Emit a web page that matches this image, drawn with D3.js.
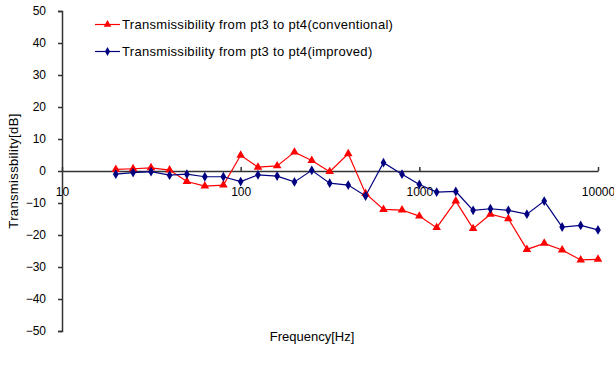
<!DOCTYPE html>
<html>
<head>
<meta charset="utf-8">
<script src="https://cdn.jsdelivr.net/npm/d3@7"></script>
<style>
  html, body { margin: 0; padding: 0; background: #fff; }
  svg { display: block; font-family: "Liberation Sans", Arial, sans-serif; }
</style>
</head>
<body>
<svg id="chart" width="614" height="365"></svg>
<script>
// 1/3-octave band centre frequencies (Hz)
const frequencies = [20, 25, 31.5, 40, 50, 63, 80, 100, 125, 160, 200, 250, 315, 400, 500,
  630, 800, 1000, 1250, 1600, 2000, 2500, 3150, 4000, 5000, 6300, 8000, 10000];

// Transmissibility pt3 -> pt4, conventional mount (dB)
const conventional = [0.5, 0.7, 1.0, 0.3, -3.3, -4.7, -4.4, 4.9, 1.2, 1.6, 5.9, 3.3, -0.2, 5.4, -7.0,
  -12.0, -12.2, -14.1, -17.7, -9.4, -18.0, -13.5, -14.9, -24.5, -22.6, -24.7, -27.8, -27.6];

// Transmissibility pt3 -> pt4, improved mount (dB)
const improved = [-1.0, -0.5, -0.2, -1.3, -1.0, -1.8, -1.8, -3.3, -1.2, -1.6, -3.4, 0.2, -3.8, -4.4, -7.8,
  2.6, -1.0, -4.2, -6.6, -6.4, -12.3, -11.8, -12.3, -13.5, -9.4, -17.5, -17.0, -18.4];

const seriesNames = [
  "Transmissibility from pt3 to pt4(conventional)",
  "Transmissibility from pt3 to pt4(improved)"
];
const yTicks = [50, 40, 30, 20, 10, 0, -10, -20, -30, -40, -50];
const xTicks = [10, 100, 1000, 10000];
const yTitle = "Transmissbility[dB]";
const xTitle = "Frequency[Hz]";

const svg = d3.select("#chart");
const plotLeft = 62, plotRight = 598, plotTop = 11, plotBottom = 331;

const x = d3.scaleLog().domain([10, 10000]).range([plotLeft, plotRight]);
const y = d3.scaleLinear().domain([-50, 50]).range([plotBottom, plotTop]);

const axisColor = "#333";
const fontSize = 12;

// vertical value axis
const yAxis = svg.append("g")
  .attr("transform", `translate(${plotLeft},0)`)
  .call(d3.axisLeft(y).tickValues(yTicks).tickSize(4).tickPadding(12).tickFormat(d3.format("d")));
yAxis.select(".domain").attr("stroke", axisColor).attr("stroke-width", 1.5);
yAxis.selectAll(".tick line").attr("stroke", axisColor).attr("stroke-width", 1.5);
yAxis.selectAll(".tick text").attr("font-size", fontSize).attr("fill", "#000")
  .attr("font-family", "Liberation Sans, Arial, sans-serif");

// frequency axis crossing at 0 dB, with inward ticks and labels below
const xAxis = svg.append("g")
  .attr("transform", `translate(0,${y(0)})`)
  .call(d3.axisBottom(x).tickValues(xTicks).tickSize(-4).tickSizeOuter(0).tickPadding(16)
    .tickFormat(d3.format("d")));
xAxis.select(".domain").attr("stroke", axisColor).attr("stroke-width", 1.5);
xAxis.selectAll(".tick line").attr("stroke", axisColor).attr("stroke-width", 1.5);
xAxis.selectAll(".tick text").attr("font-size", fontSize).attr("fill", "#000")
  .attr("font-family", "Liberation Sans, Arial, sans-serif");

// axis titles
svg.append("text")
  .attr("transform", `translate(18,${(plotTop + plotBottom) / 2}) rotate(-90)`)
  .attr("text-anchor", "middle")
  .attr("font-size", 13)
  .attr("letter-spacing", 0.35)
  .text(yTitle);

svg.append("text")
  .attr("x", 312).attr("y", 341)
  .attr("text-anchor", "middle")
  .attr("font-size", 13)
  .text(xTitle);

const line = d3.line().x(d => x(d[0])).y(d => y(d[1]));

const series = [
  { name: seriesNames[0], values: conventional, color: "#ff0000", symbol: d3.symbolTriangle, size: 32 },
  { name: seriesNames[1], values: improved, color: "#000080", symbol: d3.symbolDiamond, size: 28 }
];

series.forEach(s => {
  const pts = frequencies.map((f, i) => [f, s.values[i]]);
  const g = svg.append("g");
  g.append("path")
    .datum(pts)
    .attr("fill", "none")
    .attr("stroke", s.color)
    .attr("stroke-width", 1.2)
    .attr("d", line);
  g.selectAll("path.mark")
    .data(pts)
    .join("path")
    .attr("class", "mark")
    .attr("transform", d => `translate(${x(d[0])},${y(d[1])})`)
    .attr("d", d3.symbol().type(s.symbol).size(s.size))
    .attr("fill", s.color);
});

// legend
const legend = svg.append("g");
series.forEach((s, i) => {
  const ly = 24.5 + i * 27;
  legend.append("line")
    .attr("x1", 95).attr("x2", 120).attr("y1", ly).attr("y2", ly)
    .attr("stroke", s.color).attr("stroke-width", 1.2);
  legend.append("path")
    .attr("transform", `translate(107.5,${ly})`)
    .attr("d", d3.symbol().type(s.symbol).size(s.size * 0.8))
    .attr("fill", s.color);
  legend.append("text")
    .attr("x", 122).attr("y", ly + 4.7)
    .attr("font-size", 13)
    .attr("letter-spacing", 0.3)
    .text(s.name);
});
</script>
</body>
</html>
